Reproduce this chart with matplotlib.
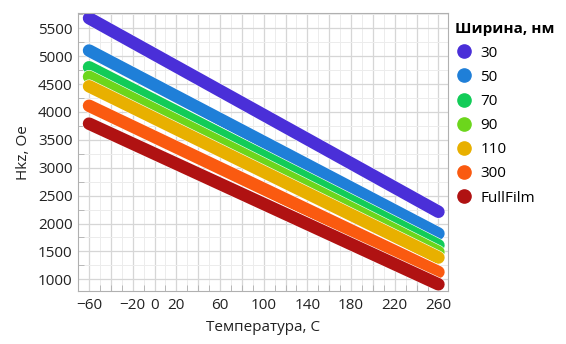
import matplotlib.pyplot as plt
import matplotlib.patheffects as pe
from matplotlib.ticker import MultipleLocator, FixedLocator

plt.rcParams['font.family'] = ['Open Sans', 'DejaVu Sans']

# данные: ширина полоски и Hkz на краях диапазона температур
temps = [-60, 260]
labels = ['30', '50', '70', '90', '110', '300', 'FullFilm']
hkz_30 = [5680, 2210]
hkz_50 = [5100, 1820]
hkz_70 = [4800, 1610]
hkz_90 = [4630, 1490]
hkz_110 = [4460, 1390]
hkz_300 = [4110, 1130]
hkz_full = [3790, 910]
series = [hkz_30, hkz_50, hkz_70, hkz_90, hkz_110, hkz_300, hkz_full]
colors = ['#4a2fd8', '#1f7fd8', '#12cc58', '#6cd61c', '#e8b000', '#fa5a10', '#b01212']
xtick_labels = [-60, -20, 0, 20, 60, 100, 140, 180, 220, 260]

fig = plt.figure(figsize=(5.66, 3.44), dpi=100)
ax = fig.add_axes([0.138, 0.154, 0.654, 0.807])

for lab, vals, c in zip(labels, series, colors):
    ax.plot(temps, vals, color=c, lw=9, solid_capstyle='round', label=lab,
            path_effects=[pe.Stroke(linewidth=9.8, foreground='white'), pe.Normal()])

ax.set_xlim(-70, 269)
ax.set_ylim(790, 5765)
ax.xaxis.set_major_locator(FixedLocator(xtick_labels))
ax.xaxis.set_minor_locator(MultipleLocator(10))
ax.yaxis.set_minor_locator(MultipleLocator(250))
ax.set_yticks(range(1000, 5501, 500))

# сетка: основные линии каждые 20 градусов, вспомогательные каждые 10
for x in range(-60, 261, 20):
    ax.axvline(x, color='#d6d6d6', lw=0.9, zorder=0)
for x in range(-70, 270, 20):
    ax.axvline(x, color='#ececec', lw=0.7, zorder=0)
ax.grid(axis='y', which='major', color='#d6d6d6', lw=0.9)
ax.grid(axis='y', which='minor', color='#ececec', lw=0.7)
ax.set_axisbelow(True)

for s in ax.spines.values():
    s.set_color('#b0b0b0')
ax.tick_params(which='both', direction='in', colors='#b0b0b0', labelcolor='#222222', labelsize=11)
ax.tick_params(which='major', length=0)
ax.tick_params(which='minor', length=4)
ax.tick_params(axis='x', pad=5)
ax.tick_params(axis='y', pad=4)

ax.set_xlabel('Температура, С', fontsize=11, color='#222222', labelpad=5)
ax.set_ylabel('Hkz, Oe', fontsize=11, color='#222222', labelpad=5)

handles = [plt.Line2D([], [], ls='none', marker='o', ms=9.5, color=c) for c in colors]
leg = fig.legend(handles, labels, loc='upper left', bbox_to_anchor=(0.78, 0.975),
                 frameon=False, fontsize=11, title='Ширина, нм',
                 handletextpad=0.45, labelspacing=0.6, handlelength=1.2)
leg.get_title().set_fontweight('bold')
leg.get_title().set_fontsize(11)
leg._legend_box.align = 'left'

plt.savefig('out.png', dpi=100)
